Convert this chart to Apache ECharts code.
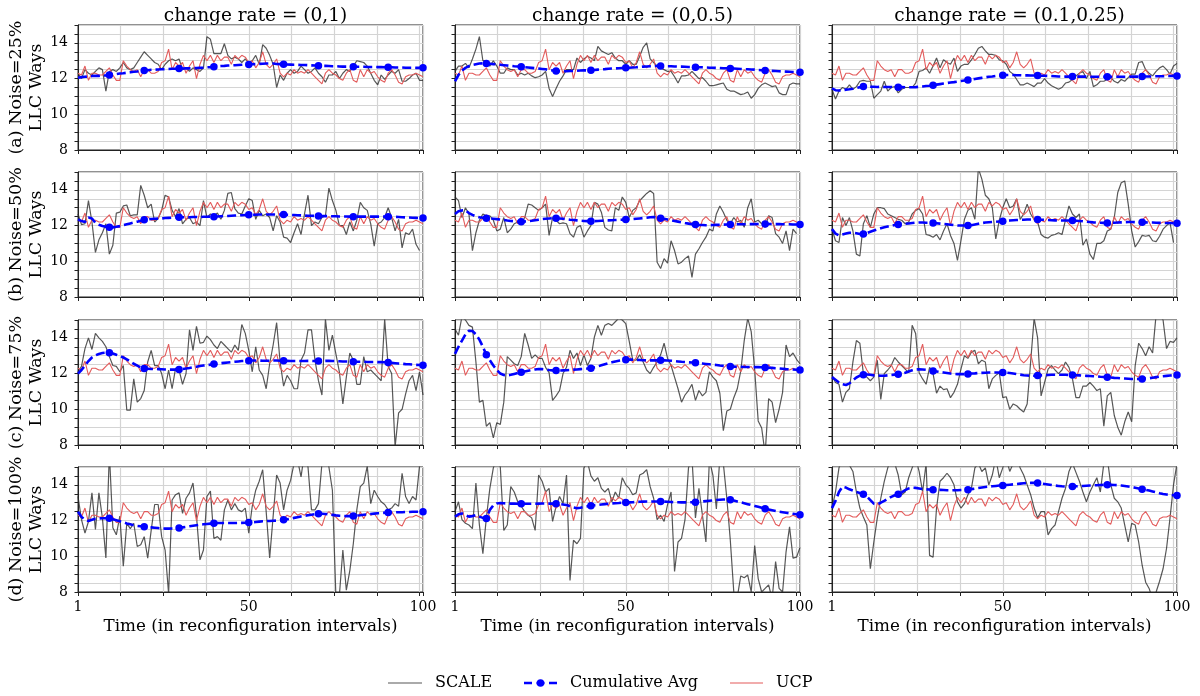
<!DOCTYPE html>
<html><head><meta charset="utf-8">
<script src="https://cdn.jsdelivr.net/npm/echarts@6/dist/echarts.min.js"></script>
<style>html,body{margin:0;padding:0;background:#fff}#c{width:1200px;height:696px}</style>
</head><body><div id="c"></div>
<script>
const COL_TITLES = ['change rate = (0,1)', 'change rate = (0,0.5)', 'change rate = (0.1,0.25)'];
const ROW_LABELS = ['(a) Noise=25%', '(b) Noise=50%', '(c) Noise=75%', '(d) Noise=100%'];
const Y_NAME = 'LLC Ways';
const X_NAME = 'Time (in reconfiguration intervals)';
const X_TICK_LABELS = [1, 50, 100];
const Y_TICK_LABELS = [8, 10, 12, 14];
const LEGEND_NAMES = ['SCALE', 'Cumulative Avg', 'UCP'];

const UCP = [12.3,12.2,12.7,11.9,12.3,12.3,12.2,12.2,12.4,12.6,
 12.2,11.9,11.9,13.0,12.7,12.5,12.4,12.5,12.1,12.5,
 12.5,12.3,12.3,12.4,12.9,13.0,13.65,12.5,12.9,12.7,
 12.9,12.3,12.7,13.0,12.0,12.8,13.3,13.0,13.3,12.9,
 13.3,13.0,13.2,13.2,12.8,13.3,13.1,13.3,13.2,12.9,
 13.0,12.6,12.9,13.5,12.8,12.6,12.8,13.1,12.3,12.1,
 12.3,12.2,12.5,12.3,12.4,12.3,12.5,12.3,12.1,11.9,
 11.7,12.3,12.5,12.3,12.2,12.0,11.9,12.3,12.5,11.9,
 11.8,12.5,12.1,12.5,12.3,12.4,12.1,11.9,11.8,12.3,
 12.5,12.2,11.8,11.7,12.1,12.2,12.2,12.3,12.2,12.1];

const SCALE_R1C1 = [12.3,12.0,12.5,12.3,12.2,12.4,12.6,12.5,11.3,12.4,
 12.5,12.4,12.6,12.9,12.6,12.5,12.6,12.9,13.2,13.5,
 13.3,13.1,12.9,12.8,12.5,12.8,13.0,13.1,13.0,13.1,
 12.5,12.6,12.4,12.6,12.5,12.4,12.6,14.35,14.2,13.4,
 13.4,13.4,13.95,13.3,13.1,13.2,13.1,12.9,13.1,12.9,
 13.0,13.3,12.8,13.9,13.7,13.3,12.8,11.5,12.2,11.9,
 12.3,12.5,12.3,12.4,12.7,12.5,12.3,12.4,12.6,12.3,
 12.1,11.8,12.2,12.2,12.4,12.0,12.3,12.5,12.4,12.7,
 13.0,12.95,12.9,12.7,12.3,11.9,11.65,12.2,11.95,12.2,
 12.4,12.3,12.5,11.85,11.85,12.0,12.2,12.3,11.9,11.9];
const CUM_R1C1 = [12.05,12.08,12.1,12.12,12.14,12.15,12.15,12.17,12.18,12.2,
 12.22,12.25,12.28,12.3,12.33,12.35,12.38,12.4,12.43,12.45,
 12.47,12.49,12.5,12.51,12.52,12.53,12.54,12.55,12.55,12.56,
 12.56,12.57,12.57,12.58,12.59,12.6,12.61,12.63,12.64,12.66,
 12.68,12.7,12.71,12.73,12.74,12.75,12.76,12.77,12.78,12.79,
 12.8,12.81,12.82,12.83,12.84,12.84,12.84,12.82,12.81,12.8,
 12.79,12.78,12.77,12.77,12.76,12.76,12.75,12.74,12.73,12.72,
 12.71,12.71,12.7,12.69,12.69,12.68,12.67,12.67,12.66,12.66,
 12.66,12.66,12.66,12.65,12.65,12.65,12.64,12.64,12.63,12.63,
 12.63,12.62,12.62,12.62,12.61,12.61,12.61,12.6,12.6,12.6];

const SCALE_R1C2 = [12.4,12.7,12.7,12.85,12.6,13.1,13.65,14.35,13.0,13.0,
 12.7,13.0,12.7,12.3,12.3,12.6,12.5,12.5,12.2,12.3,
 12.2,12.3,12.15,12.05,12.1,12.2,12.4,11.45,11.0,11.45,
 11.85,12.15,12.5,12.5,12.5,13.15,12.9,13.1,13.25,13.15,
 13.0,13.8,13.55,13.45,13.35,13.45,13.15,13.0,13.0,12.8,
 13.0,12.8,12.8,13.25,13.75,14.0,13.1,12.9,12.7,12.6,
 12.5,12.4,12.4,12.1,11.75,12.15,12.15,12.2,12.4,12.2,
 12.0,12.05,11.85,11.6,11.6,11.65,11.7,11.75,11.4,11.3,
 11.3,11.2,11.1,11.15,11.25,10.9,11.1,11.45,11.65,11.75,
 11.65,11.55,11.6,11.2,11.1,11.1,11.65,11.75,11.7,11.7];
const CUM_R1C2 = [11.85,12.2,12.45,12.6,12.7,12.76,12.8,12.84,12.85,12.84,
 12.83,12.81,12.79,12.77,12.75,12.73,12.71,12.69,12.68,12.66,
 12.64,12.62,12.6,12.58,12.56,12.54,12.52,12.48,12.45,12.42,
 12.41,12.41,12.41,12.42,12.43,12.44,12.45,12.46,12.46,12.47,
 12.48,12.5,12.52,12.53,12.55,12.56,12.57,12.58,12.59,12.6,
 12.61,12.62,12.63,12.65,12.67,12.68,12.69,12.7,12.7,12.7,
 12.7,12.69,12.69,12.68,12.67,12.67,12.66,12.65,12.65,12.64,
 12.63,12.63,12.62,12.61,12.61,12.6,12.59,12.58,12.58,12.57,
 12.56,12.55,12.54,12.53,12.52,12.51,12.5,12.48,12.47,12.45,
 12.44,12.43,12.42,12.41,12.4,12.39,12.38,12.37,12.36,12.35];

const SCALE_R1C3 = [11.4,10.85,11.3,11.5,11.4,11.65,11.4,11.55,11.85,11.9,
 11.85,11.85,10.9,11.1,11.3,11.85,11.3,11.5,11.55,11.2,
 11.4,11.5,11.5,11.5,11.75,12.4,12.45,12.6,12.3,12.7,
 13.15,12.6,13.05,12.9,12.8,13.15,12.4,12.7,12.8,12.8,
 13.05,13.35,13.7,13.8,13.55,13.35,13.35,13.3,13.05,13.0,
 12.8,12.4,12.25,11.95,11.65,11.65,11.75,11.65,11.55,11.75,
 11.75,12.0,11.75,11.6,11.5,11.4,11.5,11.75,11.8,11.95,
 12.15,12.3,12.4,12.0,12.4,11.55,11.65,11.85,11.85,11.95,
 12.05,11.85,11.75,11.95,11.85,12.05,12.25,12.25,12.9,12.95,
 12.5,12.3,12.15,12.4,12.6,12.7,12.5,12.25,12.7,12.85];
const CUM_R1C3 = [11.45,11.35,11.33,11.35,11.38,11.4,11.43,11.47,11.51,11.55,
 11.57,11.55,11.54,11.53,11.54,11.53,11.53,11.53,11.52,11.52,
 11.52,11.51,11.51,11.51,11.52,11.54,11.56,11.58,11.6,11.63,
 11.66,11.69,11.72,11.75,11.78,11.8,11.83,11.86,11.89,11.92,
 11.95,11.98,12.01,12.04,12.07,12.1,12.12,12.15,12.17,12.19,
 12.2,12.2,12.2,12.19,12.19,12.18,12.18,12.17,12.17,12.17,
 12.16,12.16,12.15,12.14,12.13,12.12,12.12,12.11,12.11,12.11,
 12.11,12.11,12.11,12.11,12.1,12.1,12.1,12.1,12.1,12.1,
 12.1,12.1,12.1,12.1,12.1,12.1,12.11,12.11,12.11,12.11,
 12.12,12.12,12.12,12.13,12.13,12.13,12.14,12.14,12.15,12.15];

const SCALE_R2C1 = [12.65,12.05,12.1,13.4,12.2,10.5,11.2,11.6,12.1,10.4,
 10.9,12.7,12.75,13.1,13.15,12.55,12.6,12.6,14.25,13.7,
 13.0,13.2,12.2,12.4,12.85,13.7,13.6,12.85,12.5,12.95,
 12.1,12.35,12.45,12.1,12.2,12.0,13.4,12.45,12.65,12.55,
 12.7,12.35,12.85,13.8,13.85,12.95,12.7,12.65,13.1,13.5,
 13.4,12.35,12.85,12.55,12.65,12.45,11.7,12.55,12.2,11.35,
 11.3,11.05,11.6,12.1,11.5,12.65,13.7,12.0,12.2,12.1,
 12.45,12.55,14.1,13.4,12.85,12.0,12.0,11.5,12.2,11.7,
 12.3,13.3,13.0,12.85,12.1,10.85,12.1,12.2,12.45,13.0,
 12.45,11.7,12.35,10.75,11.6,11.5,11.8,10.95,10.6];
const CUM_R2C1 = [12.35,12.25,12.2,12.45,12.4,12.15,12.05,11.98,11.93,11.9,
 11.9,11.93,11.97,12.02,12.07,12.12,12.17,12.22,12.27,12.32,
 12.35,12.37,12.38,12.39,12.4,12.42,12.43,12.44,12.45,12.47,
 12.47,12.47,12.47,12.48,12.48,12.48,12.49,12.49,12.5,12.5,
 12.51,12.52,12.53,12.54,12.55,12.56,12.57,12.58,12.59,12.6,
 12.61,12.61,12.62,12.62,12.62,12.62,12.62,12.62,12.62,12.62,
 12.61,12.6,12.59,12.58,12.57,12.56,12.55,12.55,12.54,12.53,
 12.53,12.53,12.53,12.52,12.52,12.51,12.51,12.51,12.5,12.5,
 12.5,12.5,12.5,12.5,12.5,12.5,12.5,12.5,12.5,12.5,
 12.49,12.49,12.48,12.47,12.46,12.45,12.44,12.43,12.42,12.42];

const SCALE_R2C2 = [13.6,13.4,12.45,13.0,12.65,10.6,11.6,12.3,12.65,12.55,
 12.55,12.3,11.7,11.8,12.45,11.6,11.8,12.1,12.2,12.1,
 12.45,13.2,13.15,13.0,12.85,13.0,13.2,11.45,12.45,12.3,
 12.1,12.15,12.1,11.55,11.35,11.9,12.0,11.35,11.7,12.0,
 13.3,13.2,12.75,11.9,11.75,11.7,13.0,12.85,13.6,13.3,
 12.45,12.85,13.0,13.4,13.6,13.8,13.95,13.8,9.95,9.6,
 10.15,9.9,11.15,10.6,9.85,9.95,10.15,10.3,9.1,10.4,
 10.7,11.05,11.35,11.8,11.7,12.65,13.1,12.75,12.3,12.1,
 12.45,12.2,12.3,11.9,13.0,13.5,12.2,12.3,12.1,11.9,
 12.55,12.45,11.55,11.35,11.0,11.7,10.6,11.8,11.55];
const CUM_R2C2 = [12.65,12.8,12.85,12.85,12.7,12.6,12.52,12.47,12.44,12.41,
 12.4,12.38,12.36,12.34,12.31,12.28,12.26,12.24,12.23,12.22,
 12.23,12.25,12.27,12.3,12.33,12.36,12.38,12.4,12.41,12.41,
 12.4,12.38,12.36,12.33,12.31,12.29,12.27,12.26,12.25,12.24,
 12.25,12.26,12.27,12.28,12.29,12.3,12.31,12.32,12.33,12.34,
 12.35,12.36,12.38,12.4,12.42,12.44,12.47,12.48,12.45,12.41,
 12.38,12.34,12.3,12.26,12.22,12.18,12.14,12.11,12.08,12.06,
 12.04,12.03,12.02,12.02,12.03,12.04,12.05,12.05,12.06,12.06,
 12.06,12.07,12.07,12.07,12.08,12.08,12.08,12.09,12.09,12.09,
 12.09,12.09,12.08,12.08,12.07,12.07,12.07,12.06,12.06,12.06];

const SCALE_R2C3 = [11.8,11.15,11.05,12.45,12.0,12.45,11.7,10.4,10.3,12.1,
 12.55,11.9,12.65,13.0,13.0,12.95,12.65,12.55,12.45,12.35,
 12.3,12.1,12.2,12.65,12.85,12.95,12.65,11.5,11.45,11.35,
 11.5,11.2,11.7,12.1,11.45,11.0,10.05,11.15,12.35,12.85,
 13.0,12.35,15.2,14.6,13.7,13.5,13.0,11.25,12.3,13.0,
 13.5,13.0,13.1,13.5,12.35,12.65,13.2,12.65,12.35,12.2,
 11.5,11.35,11.3,11.45,11.5,11.6,11.5,12.3,13.1,12.65,
 12.45,12.65,10.9,11.25,10.4,10.1,11.0,11.0,11.15,11.7,
 11.8,12.45,13.85,14.4,14.5,13.2,11.7,10.8,11.1,11.45,
 11.4,11.45,11.15,11.1,11.4,11.8,12.0,12.15,11.05];
const CUM_R2C3 = [11.8,11.55,11.45,11.5,11.55,11.6,11.6,11.57,11.53,11.53,
 11.58,11.65,11.72,11.79,11.85,11.9,11.95,11.99,12.03,12.06,
 12.08,12.1,12.12,12.14,12.16,12.17,12.17,12.16,12.16,12.15,
 12.13,12.11,12.09,12.07,12.05,12.03,12.01,12.0,12.0,12.0,
 12.02,12.06,12.1,12.14,12.17,12.19,12.2,12.21,12.23,12.24,
 12.26,12.28,12.3,12.31,12.32,12.33,12.34,12.34,12.34,12.34,
 12.33,12.32,12.31,12.3,12.29,12.28,12.28,12.28,12.28,12.28,
 12.27,12.26,12.24,12.22,12.2,12.18,12.17,12.16,12.15,12.15,
 12.15,12.16,12.17,12.18,12.19,12.2,12.2,12.19,12.19,12.19,
 12.18,12.17,12.17,12.16,12.15,12.15,12.14,12.14,12.13,12.13];

const SCALE_R3C1 = [12.1,12.4,13.4,14.0,13.35,14.25,14.0,13.8,13.5,12.95,
 12.45,12.4,12.1,12.45,9.95,9.95,11.7,10.4,10.6,11.05,
 12.65,13.3,12.45,12.45,12.0,11.15,12.2,11.15,12.3,12.2,
 11.4,12.0,14.45,13.3,14.65,13.7,13.75,14.1,13.9,13.6,
 13.4,13.8,13.6,13.4,13.2,13.6,13.3,14.75,14.25,13.3,
 12.1,13.5,12.2,11.9,11.15,12.55,13.6,14.85,12.65,11.3,
 11.9,11.6,11.15,11.15,12.75,13.15,14.45,14.45,12.75,11.6,
 10.8,15.05,13.3,14.15,13.1,12.1,10.3,11.8,13.15,12.75,
 11.4,11.4,12.95,12.1,12.2,12.0,11.8,11.6,15.05,12.4,
 12.0,7.9,9.8,10.0,10.85,11.6,11.9,11.05,12.1,10.8];
const CUM_R3C1 = [12.0,12.2,12.45,12.7,12.9,13.02,13.1,13.15,13.17,13.17,
 13.12,13.05,12.98,12.9,12.8,12.68,12.55,12.45,12.35,12.28,
 12.27,12.26,12.26,12.25,12.24,12.23,12.22,12.22,12.22,12.23,
 12.25,12.28,12.31,12.35,12.38,12.42,12.45,12.48,12.5,12.53,
 12.55,12.58,12.6,12.62,12.64,12.66,12.68,12.7,12.71,12.72,
 12.73,12.73,12.73,12.72,12.72,12.72,12.73,12.73,12.72,12.72,
 12.71,12.7,12.7,12.7,12.7,12.7,12.71,12.71,12.7,12.7,
 12.7,12.71,12.71,12.7,12.7,12.69,12.68,12.68,12.67,12.66,
 12.66,12.66,12.66,12.65,12.65,12.65,12.64,12.64,12.63,12.62,
 12.6,12.58,12.56,12.55,12.53,12.52,12.51,12.49,12.48,12.47];

const SCALE_R3C2 = [14.5,14.15,15.2,15.0,14.7,14.6,12.65,10.4,10.5,9.05,
 9.25,8.4,9.25,9.15,10.4,12.95,12.75,12.55,12.45,12.95,
 14.25,13.6,12.85,13.05,12.85,12.85,12.35,12.05,10.5,10.75,
 11.05,12.0,12.35,13.3,12.85,13.15,12.45,13.05,12.45,12.85,
 14.05,14.7,14.15,14.7,14.8,14.7,14.9,15.1,15.0,14.8,
 13.8,12.75,12.75,13.05,12.65,12.2,12.0,12.35,12.65,13.05,
 13.7,12.85,12.45,11.8,11.15,10.4,10.8,11.05,11.4,10.5,
 11.05,10.75,10.95,12.1,11.8,11.6,10.9,8.8,9.9,10.0,
 10.65,11.15,12.15,13.85,15.1,14.35,12.2,9.35,8.95,7.5,
 10.6,10.4,9.25,10.0,10.95,13.6,12.95,13.15,12.8,12.55];
const CUM_R3C2 = [13.1,13.5,13.85,14.2,14.4,14.38,14.2,13.9,13.5,13.05,
 12.75,12.45,12.2,12.0,11.92,11.9,11.93,11.98,12.03,12.08,
 12.12,12.16,12.2,12.23,12.26,12.25,12.23,12.2,12.18,12.17,
 12.17,12.18,12.19,12.2,12.22,12.23,12.25,12.26,12.28,12.3,
 12.35,12.4,12.46,12.52,12.58,12.63,12.68,12.72,12.75,12.77,
 12.78,12.78,12.77,12.76,12.75,12.74,12.74,12.74,12.74,12.74,
 12.74,12.73,12.72,12.7,12.68,12.66,12.65,12.63,12.62,12.6,
 12.58,12.56,12.54,12.52,12.5,12.48,12.45,12.43,12.41,12.4,
 12.39,12.38,12.38,12.37,12.37,12.37,12.36,12.36,12.35,12.34,
 12.33,12.32,12.3,12.29,12.27,12.25,12.24,12.23,12.21,12.2];

const SCALE_R3C3 = [11.9,11.5,11.4,10.4,10.95,11.15,12.65,13.85,13.7,12.0,
 11.8,11.6,11.8,12.75,10.55,12.0,12.2,12.45,12.9,12.65,
 12.45,12.25,12.05,14.7,14.25,12.05,11.7,11.4,12.35,12.0,
 10.9,11.3,11.1,11.15,10.65,10.95,11.4,12.25,13.0,12.85,
 13.2,13.3,12.55,12.75,12.65,11.15,11.7,11.9,12.05,10.65,
 10.7,10.0,10.3,10.2,10.0,9.85,10.3,12.65,15.1,14.0,
 10.75,11.5,12.25,12.45,12.2,12.0,12.2,12.65,12.35,11.7,
 10.65,10.65,11.3,11.3,11.5,11.3,11.05,11.15,9.05,10.75,
 10.95,9.65,9.0,8.55,9.3,9.85,9.3,12.45,13.7,13.4,
 13.0,13.5,13.15,15.3,15.3,15.0,13.4,13.8,13.75,14.0];
const CUM_R3C3 = [11.8,11.65,11.5,11.4,11.36,11.45,11.62,11.78,11.88,11.94,
 11.95,11.93,11.9,11.89,11.88,11.88,11.9,11.92,11.94,11.96,
 12.0,12.05,12.12,12.18,12.23,12.24,12.23,12.21,12.18,12.15,
 12.12,12.09,12.06,12.03,12.0,11.98,11.97,11.97,11.97,11.98,
 12.0,12.01,12.03,12.04,12.05,12.06,12.06,12.06,12.06,12.06,
 12.05,12.03,12.0,11.97,11.94,11.91,11.89,11.88,11.88,11.89,
 11.9,11.91,11.92,11.93,11.93,11.93,11.93,11.93,11.92,11.92,
 11.91,11.9,11.88,11.87,11.86,11.85,11.84,11.82,11.81,11.79,
 11.78,11.76,11.75,11.73,11.72,11.71,11.7,11.7,11.7,11.7,
 11.72,11.74,11.77,11.8,11.83,11.85,11.87,11.89,11.91,11.92];

const SCALE_R4C1 = [13.35,12.05,11.3,11.95,13.55,11.5,13.55,12.15,9.9,15.8,
 11.6,11.2,12.25,9.45,11.85,11.55,11.85,10.55,10.65,11.1,
 9.9,11.45,12.9,12.9,11.1,10.35,7.9,13.15,13.45,13.55,
 12.4,13.25,13.55,14.1,12.25,9.8,10.35,13.35,13.65,11.0,
 11.1,10.9,12.6,13.15,12.6,12.95,12.6,12.5,12.7,11.3,
 12.8,13.7,14.2,14.85,12.5,9.9,12.25,14.55,14.1,12.6,
 13.7,14.25,15.2,15.4,14.45,15.8,15.0,12.6,12.6,12.95,
 15.2,15.8,15.0,13.7,7.8,7.8,10.35,8.1,9.2,10.7,
 12.6,13.9,14.1,15.05,12.95,13.7,13.35,13.05,12.9,12.6,
 12.7,12.95,12.8,14.65,13.35,12.95,13.35,13.15,15.05,15.6];
const CUM_R4C1 = [12.5,12.2,12.05,11.98,12.05,12.1,12.12,12.13,12.13,12.13,
 12.08,12.02,11.96,11.9,11.84,11.79,11.74,11.7,11.68,11.66,
 11.64,11.62,11.6,11.58,11.56,11.55,11.55,11.56,11.57,11.59,
 11.62,11.65,11.68,11.71,11.74,11.77,11.79,11.81,11.83,11.85,
 11.86,11.86,11.86,11.86,11.86,11.86,11.87,11.87,11.88,11.89,
 11.9,11.92,11.94,11.96,11.97,11.98,11.99,12.0,12.02,12.04,
 12.07,12.11,12.15,12.19,12.23,12.27,12.3,12.33,12.36,12.38,
 12.38,12.37,12.35,12.32,12.29,12.27,12.26,12.25,12.25,12.26,
 12.28,12.3,12.33,12.35,12.37,12.39,12.41,12.42,12.44,12.45,
 12.46,12.46,12.47,12.47,12.48,12.48,12.49,12.49,12.5,12.5];

const SCALE_R4C2 = [12.5,13.05,12.05,11.85,11.75,11.55,14.1,11.75,10.15,12.15,
 13.8,14.95,15.5,15.0,11.45,11.75,13.9,13.6,13.05,12.8,
 12.5,12.3,12.15,11.45,14.55,14.2,13.6,13.8,11.95,12.8,
 13.35,12.95,14.55,8.65,10.9,10.7,11.0,14.95,15.3,14.5,
 14.2,14.4,13.8,13.6,13.8,13.05,13.6,13.25,14.4,14.0,
 13.8,13.45,13.55,14.55,14.65,14.85,13.9,13.25,12.05,12.3,
 11.95,12.9,13.6,9.15,10.8,11.0,12.05,14.95,15.5,12.15,
 13.8,12.3,10.8,15.4,14.55,12.65,15.5,15.2,13.25,10.9,
 8.0,7.7,8.9,8.8,8.95,8.0,10.6,8.75,8.0,8.2,
 8.4,7.6,9.7,8.2,8.0,10.25,11.65,9.9,9.95,10.5];
const CUM_R4C2 = [12.22,12.35,12.4,12.3,12.22,12.25,12.3,12.22,12.15,12.12,
 12.6,12.85,12.96,12.98,12.97,12.96,12.95,12.95,12.94,12.94,
 12.94,12.94,12.94,12.94,12.95,12.96,12.96,12.95,12.95,12.94,
 12.92,12.9,12.87,12.8,12.73,12.69,12.72,12.77,12.8,12.83,
 12.86,12.88,12.9,12.92,12.94,12.96,12.97,12.98,13.0,13.01,
 13.02,13.03,13.04,13.05,13.06,13.07,13.07,13.07,13.07,13.07,
 13.06,13.05,13.04,13.03,13.03,13.02,13.02,13.02,13.03,13.03,
 13.05,13.07,13.09,13.11,13.13,13.15,13.17,13.18,13.18,13.16,
 13.12,13.07,13.02,12.97,12.92,12.87,12.82,12.77,12.72,12.66,
 12.62,12.58,12.54,12.5,12.47,12.44,12.41,12.38,12.35,12.32];

const SCALE_R4C3 = [12.7,13.6,14.95,15.5,15.3,15.1,14.75,13.6,12.7,12.2,
 11.75,9.3,10.8,12.15,13.25,14.2,14.95,15.5,15.2,14.55,
 13.45,13.6,14.4,14.95,15.5,14.75,13.6,15.2,10.05,9.95,
 12.7,14.2,14.4,14.65,14.4,14.0,13.05,12.7,12.95,13.45,
 13.8,14.95,15.2,14.75,14.95,14.0,14.55,15.5,14.4,14.95,
 15.5,14.75,15.2,15.5,14.95,14.55,14.0,13.45,12.7,12.15,
 12.5,12.5,11.2,11.55,11.75,12.5,13.25,13.8,14.75,15.2,
 14.7,14.2,13.6,13.05,13.6,14.0,14.4,13.6,15.2,15.5,
 14.0,13.25,13.05,12.7,11.75,10.8,11.85,11.75,10.8,9.5,
 8.55,8.2,7.6,8.0,8.6,9.3,10.45,12.15,14.0,15.2];
const CUM_R4C3 = [12.7,13.1,13.6,13.9,13.85,13.75,13.68,13.6,13.55,13.48,
 13.35,13.15,12.95,12.92,13.0,13.1,13.22,13.33,13.42,13.48,
 13.58,13.7,13.8,13.84,13.83,13.8,13.77,13.75,13.74,13.73,
 13.72,13.72,13.71,13.7,13.7,13.7,13.7,13.71,13.72,13.73,
 13.76,13.79,13.82,13.85,13.88,13.9,13.92,13.94,13.96,13.97,
 13.99,14.01,14.03,14.05,14.07,14.09,14.1,14.11,14.11,14.1,
 14.08,14.05,14.02,13.99,13.96,13.94,13.92,13.91,13.91,13.91,
 13.92,13.93,13.94,13.95,13.96,13.97,13.98,13.99,14.0,14.0,
 14.0,13.99,13.98,13.96,13.94,13.91,13.88,13.84,13.8,13.76,
 13.72,13.68,13.63,13.58,13.53,13.49,13.46,13.44,13.42,13.41];

const SCALE_PANELS = [[SCALE_R1C1, SCALE_R1C2, SCALE_R1C3],
                      [SCALE_R2C1, SCALE_R2C2, SCALE_R2C3],
                      [SCALE_R3C1, SCALE_R3C2, SCALE_R3C3],
                      [SCALE_R4C1, SCALE_R4C2, SCALE_R4C3]];
const CUM_PANELS = [[CUM_R1C1, CUM_R1C2, CUM_R1C3],
                    [CUM_R2C1, CUM_R2C2, CUM_R2C3],
                    [CUM_R3C1, CUM_R3C2, CUM_R3C3],
                    [CUM_R4C1, CUM_R4C2, CUM_R4C3]];

// ---- styling / layout ----
const FONT = 'DejaVu Serif';
const LEFTS = [78, 455, 832], TOPS = [25, 172, 320, 467], W = 345, H = 125;
const C_SCALE = 'rgba(40,40,40,0.78)', C_UCP = '#e35b5b', C_CUM = '#0000ff';
const GRIDLINE = {show: true, lineStyle: {color: '#d4d4d4', width: 1.2}};
const SPINE = '#222';

const toXY = arr => arr.map((v, i) => [i + 1, v]);

const grids = [], xAxes = [], yAxes = [], series = [], titles = [];
let k = 0;
for (let r = 0; r < 4; r++) {
  for (let c = 0; c < 3; c++) {
    grids.push({left: LEFTS[c], top: TOPS[r], width: W, height: H, show: true,
      borderColor: SPINE, borderWidth: 1, backgroundColor: 'transparent'});
    xAxes.push({
      type: 'value', gridIndex: k, min: 1, max: 100, interval: 12.25,
      axisLine: {show: true, lineStyle: {color: SPINE, width: 1}},
      axisTick: {show: true, length: 4, lineStyle: {color: SPINE}},
      splitLine: GRIDLINE,
      axisLabel: {show: r === 3, showMinLabel: true, showMaxLabel: true, margin: 8,
        fontFamily: FONT, fontSize: 14, color: '#000',
        formatter: v => (X_TICK_LABELS.indexOf(Math.round(v * 100) / 100) >= 0 ? String(v) : '')},
      name: r === 3 ? X_NAME : '', nameLocation: 'middle', nameGap: 26,
      nameTextStyle: {fontFamily: FONT, fontSize: 16.8, color: '#000'}
    });
    yAxes.push({
      type: 'value', gridIndex: k, min: 8, max: 15, interval: 0.5,
      axisLine: {show: true, lineStyle: {color: SPINE, width: 1}},
      axisTick: {show: true, length: 3.5, lineStyle: {color: SPINE}},
      splitLine: GRIDLINE,
      axisLabel: {show: c === 0, margin: 10, fontFamily: FONT, fontSize: 14, color: '#000',
        formatter: v => (Y_TICK_LABELS.indexOf(v) >= 0 ? String(v) : '')},
      name: c === 0 ? ROW_LABELS[r] + '\n' + Y_NAME : '', nameLocation: 'middle', nameRotate: 90, nameGap: 32,
      nameTextStyle: {fontFamily: FONT, fontSize: 17.5, lineHeight: 19.5, color: '#000'}
    });
    series.push({
      name: LEGEND_NAMES[0], type: 'line', xAxisIndex: k, yAxisIndex: k, z: 2,
      data: toXY(SCALE_PANELS[r][c]), symbol: 'none', lineStyle: {color: C_SCALE, width: 1.2},
      itemStyle: {color: C_SCALE}, clip: true, silent: true
    });
    series.push({
      name: LEGEND_NAMES[2], type: 'line', xAxisIndex: k, yAxisIndex: k, z: 3,
      data: toXY(UCP), symbol: 'none', lineStyle: {color: C_UCP, width: 1.1},
      itemStyle: {color: C_UCP}, clip: true, silent: true
    });
    series.push({
      name: LEGEND_NAMES[1], type: 'line', xAxisIndex: k, yAxisIndex: k, z: 4,
      data: toXY(CUM_PANELS[r][c]), symbol: 'circle', showSymbol: true, showAllSymbol: true,
      symbolSize: (val, p) => (p.dataIndex % 10 === 9 ? 7.5 : 0),
      lineStyle: {color: C_CUM, width: 2.6, type: [9, 4]},
      itemStyle: {color: C_CUM, borderWidth: 0}, clip: true, silent: true
    });
    k++;
  }
}
for (let c = 0; c < 3; c++) {
  titles.push({text: COL_TITLES[c], left: LEFTS[c] + W / 2, top: 2, textAlign: 'center',
    textStyle: {fontFamily: FONT, fontSize: 18.5, fontWeight: 'normal', color: '#000'}});
}

// legend drawn as graphic elements
const LY = 683;
const legendFont = '16px "DejaVu Serif"';
const graphic = [
  {type: 'line', shape: {x1: 388, y1: LY, x2: 422, y2: LY}, style: {stroke: C_SCALE, lineWidth: 1.2}},
  {type: 'text', x: 435, y: LY, style: {text: LEGEND_NAMES[0], font: legendFont, fill: '#000', textVerticalAlign: 'middle', verticalAlign: 'middle'}},
  {type: 'line', shape: {x1: 524, y1: LY, x2: 557, y2: LY}, style: {stroke: C_CUM, lineWidth: 2.6, lineDash: [8, 4.5]}},
  {type: 'circle', shape: {cx: 540.5, cy: LY, r: 3.8}, style: {fill: C_CUM}},
  {type: 'text', x: 570, y: LY, style: {text: LEGEND_NAMES[1], font: legendFont, fill: '#000', textVerticalAlign: 'middle', verticalAlign: 'middle'}},
  {type: 'line', shape: {x1: 730, y1: LY, x2: 763, y2: LY}, style: {stroke: C_UCP, lineWidth: 1.2}},
  {type: 'text', x: 776, y: LY, style: {text: LEGEND_NAMES[2], font: legendFont, fill: '#000', textVerticalAlign: 'middle', verticalAlign: 'middle'}}
];

const chart = echarts.init(document.getElementById('c'), null, {renderer: 'canvas'});
chart.setOption({
  animation: false,
  backgroundColor: '#fff',
  title: titles,
  grid: grids, xAxis: xAxes, yAxis: yAxes, series: series,
  graphic: graphic
});
</script></body></html>
